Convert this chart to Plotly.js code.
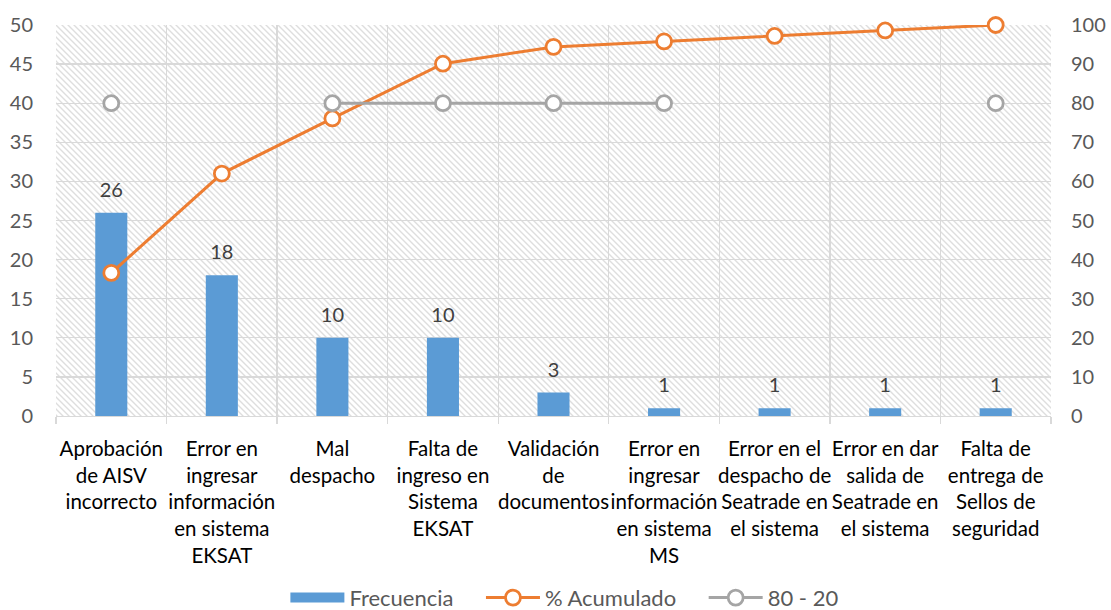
<!DOCTYPE html>
<html>
<head>
<meta charset="utf-8">
<script src="https://cdn.plot.ly/plotly-3.0.1.min.js"></script>
<style>html,body{margin:0;padding:0;background:#fff;}#chart{width:1111px;height:610px;}</style>
</head>
<body>
<div id="chart"></div>
<script>
var categories = [
  "Aprobación<br>de AISV<br>incorrecto",
  "Error en<br>ingresar<br>información<br>en sistema<br>EKSAT",
  "Mal<br>despacho",
  "Falta de<br>ingreso en<br>Sistema<br>EKSAT",
  "Validación<br>de<br>documentos",
  "Error en<br>ingresar<br>información<br>en sistema<br>MS",
  "Error en el<br>despacho de<br>Seatrade en<br>el sistema",
  "Error en dar<br>salida de<br>Seatrade en<br>el sistema",
  "Falta de<br>entrega de<br>Sellos de<br>seguridad"
];
var frecuencia = [26, 18, 10, 10, 3, 1, 1, 1, 1];
var acumulado = [36.6, 62.0, 76.1, 90.1, 94.4, 95.8, 97.2, 98.6, 100];
var ochentaVeinte = [80, null, 80, 80, 80, 80, null, null, 80];
var yTicks = [0, 5, 10, 15, 20, 25, 30, 35, 40, 45, 50];
var y2Ticks = [0, 10, 20, 30, 40, 50, 60, 70, 80, 90, 100];
var legendNames = ["Frecuencia", "% Acumulado", "80 - 20"];

var FONT = "Lato, 'Open Sans', sans-serif";
var GAP = "\u00a0\u00a0\u00a0\u00a0";
var hatchSvg = '<svg xmlns="http://www.w3.org/2000/svg" width="995" height="391" preserveAspectRatio="none">' +
  '<defs><pattern id="p" patternUnits="userSpaceOnUse" width="6" height="6">' +
  '<path d="M0,0 L6,6 M-1,5 L1,7 M5,-1 L7,1" stroke="#dedede" stroke-width="1.4"/></pattern></defs>' +
  '<rect width="995" height="391" fill="url(#p)"/></svg>';
var hatchUri = 'data:image/svg+xml;charset=utf-8,' + encodeURIComponent(hatchSvg);

var traces = [
  {
    type: "bar", name: legendNames[0], x: categories, y: frecuencia,
    marker: {color: "#5b9bd5"}, showlegend: false, hoverinfo: "x+y"
  },
  {
    type: "scatter", mode: "markers+text", name: "etiquetas",
    x: categories, y: frecuencia, text: frecuencia.map(String), textposition: "top center",
    textfont: {family: FONT, size: 20, color: "#404040"},
    marker: {size: 16, opacity: 0}, showlegend: false, hoverinfo: "skip", cliponaxis: false
  },
  {
    type: "scatter", mode: "lines", name: legendNames[0] + GAP, x: [null], y: [null],
    line: {color: "#5b9bd5", width: 13}, showlegend: true, hoverinfo: "skip"
  },
  {
    type: "scatter", mode: "lines+markers", name: legendNames[1] + GAP,
    x: categories, y: acumulado, yaxis: "y2",
    line: {color: "#ed7d31", width: 3},
    marker: {symbol: "circle", size: 15, color: "#ffffff", line: {color: "#ed7d31", width: 2.8}},
    cliponaxis: false
  },
  {
    type: "scatter", mode: "lines+markers", name: legendNames[2],
    x: categories, y: ochentaVeinte, yaxis: "y2", connectgaps: false,
    line: {color: "#a5a5a5", width: 3},
    marker: {symbol: "circle", size: 15, color: "#ffffff", line: {color: "#a5a5a5", width: 2.8}},
    cliponaxis: false
  }
];

var layout = {
  width: 1111, height: 610,
  margin: {l: 56, r: 60, t: 25, b: 194},
  paper_bgcolor: "#ffffff", plot_bgcolor: "rgba(0,0,0,0)",
  font: {family: FONT, color: "#595959", size: 20},
  bargap: 0.71,
  showlegend: true,
  legend: {orientation: "h", x: 0.508, xanchor: "center", xref: "container",
           y: 0.02, yanchor: "middle", yref: "container",
           font: {family: FONT, size: 22, color: "#595959"}, itemwidth: 54, traceorder: "normal"},
  xaxis: {
    type: "category", range: [-0.5, 8.5], tickson: "boundaries",
    showgrid: true, gridcolor: "#d9d9d9", gridwidth: 1.3,
    showline: true, linecolor: "#d9d9d9", linewidth: 1.3,
    ticks: "outside", ticklen: 7, tickcolor: "#d9d9d9", tickwidth: 1.3,
    tickfont: {family: FONT, size: 20.5, color: "#000000"}, tickangle: 0, automargin: false,
    ticklabelstandoff: 14
  },
  yaxis: {
    range: [0, 50], tickvals: yTicks, ticktext: yTicks.map(String),
    showgrid: true, gridcolor: "#d9d9d9", gridwidth: 1.3, zeroline: false,
    tickfont: {family: FONT, size: 20, color: "#595959"}, ticks: "", automargin: false,
    ticklabelstandoff: 22
  },
  yaxis2: {
    range: [0, 100], tickvals: y2Ticks, ticktext: y2Ticks.map(String),
    overlaying: "y", side: "right", showgrid: false, zeroline: false,
    tickfont: {family: FONT, size: 20, color: "#595959"}, ticks: "", automargin: false,
    ticklabelstandoff: 19
  },
  images: [{
    source: hatchUri, xref: "paper", yref: "paper", x: 0, y: 1, sizex: 1, sizey: 1,
    xanchor: "left", yanchor: "top", sizing: "stretch", layer: "below"
  }]
};

Plotly.newPlot("chart", traces, layout, {displayModeBar: false, staticPlot: true});
</script>
</body>
</html>
